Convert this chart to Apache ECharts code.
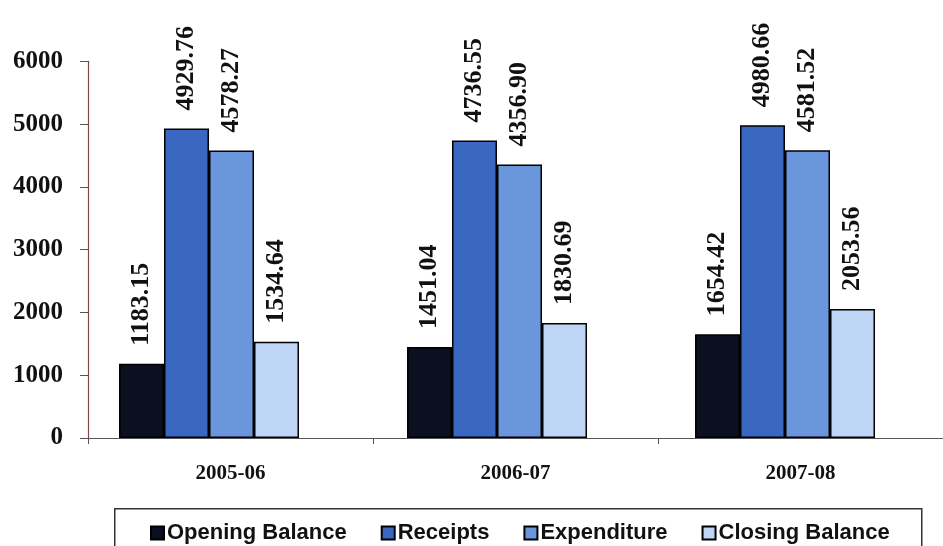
<!DOCTYPE html>
<html>
<head>
<meta charset="utf-8">
<script src="https://cdn.jsdelivr.net/npm/echarts@6/dist/echarts.min.js"></script>
<style>
  html, body { margin: 0; padding: 0; background: #fff; }
  #chart { width: 943px; height: 546px; }
</style>
</head>
<body>
<div id="chart"></div>
<script>
// Yearly fund position (values in lakh)
const years = ['2005-06', '2006-07', '2007-08'];
const openingBalance = [1183.15, 1451.04, 1654.42];
const receipts = [4929.76, 4736.55, 4980.66];
const expenditure = [4578.27, 4356.90, 4581.52];
const closingBalance = [1534.64, 1830.69, 2053.56];
const yTicks = [0, 1000, 2000, 3000, 4000, 5000, 6000];

const seriesNames = ['Opening Balance', 'Receipts', 'Expenditure', 'Closing Balance'];
const seriesData = [openingBalance, receipts, expenditure, closingBalance];
const seriesColors = ['#0b0f20', '#3a67bf', '#6a97dc', '#bed5f5'];

const serif = '"Liberation Serif", "Times New Roman", serif';
const sans = '"Liberation Sans", Arial, sans-serif';

const chart = echarts.init(document.getElementById('chart'), null, { renderer: 'canvas' });

const plotTop = 61.3;
const plotHeight = 376.7;

chart.setOption({
  backgroundColor: '#ffffff',
  animation: false,
  grid: [
    // visible axes
    { left: 88, top: plotTop, width: 864, height: plotHeight },
    // bar placement (group sits slightly left of each tick label)
    { left: 65, top: plotTop, width: 864, height: plotHeight }
  ],
  xAxis: [
    {
      type: 'category', gridIndex: 0, data: years,
      axisLine: { lineStyle: { color: '#555', width: 1.2 } },
      axisTick: { show: true, length: 6, lineStyle: { color: '#555' } },
      axisLabel: { margin: 25, color: '#111', fontFamily: serif, fontWeight: 'bold', fontSize: 21 }
    },
    {
      type: 'category', gridIndex: 1, data: years,
      show: false
    }
  ],
  yAxis: [
    {
      type: 'value', gridIndex: 0, min: yTicks[0], max: yTicks[yTicks.length - 1], interval: 1000,
      splitLine: { show: false },
      axisLine: { show: true, lineStyle: { color: '#7a4c42', width: 1.2 } },
      axisTick: { show: true, length: 8, lineStyle: { color: '#555' } },
      axisLabel: {
        margin: 25, color: '#111', fontFamily: serif, fontWeight: 'bold', fontSize: 25,
        formatter: v => String(v)
      }
    },
    {
      type: 'value', gridIndex: 1, min: yTicks[0], max: yTicks[yTicks.length - 1], interval: 1000,
      show: false, splitLine: { show: false }
    }
  ],
  legend: {
    data: seriesNames,
    left: 145, top: 517,
    itemWidth: 13, itemHeight: 13, itemGap: 34,
    icon: 'rect',
    textStyle: { fontFamily: sans, fontWeight: 'bold', fontSize: 22, color: '#111', padding: [0, 0, 0, -2] }
  },
  graphic: [
    {
      type: 'rect', left: 114, top: 508, silent: true, z: -1,
      shape: { width: 807, height: 50 },
      style: { fill: '#fff', stroke: '#333', lineWidth: 1.5 }
    }
  ],
  series: seriesNames.map((name, i) => ({
    name,
    type: 'bar',
    xAxisIndex: 1, yAxisIndex: 1,
    data: seriesData[i],
    barWidth: 45,
    barGap: '0%',
    itemStyle: { color: seriesColors[i], borderColor: '#000', borderWidth: 1.5 },
    label: {
      show: true, position: 'top', rotate: 90, distance: 18,
      align: 'left', verticalAlign: 'middle',
      formatter: p => p.value.toFixed(2),
      fontFamily: serif, fontWeight: 'bold', fontSize: 26, color: '#111'
    }
  }))
});
</script>
</body>
</html>
